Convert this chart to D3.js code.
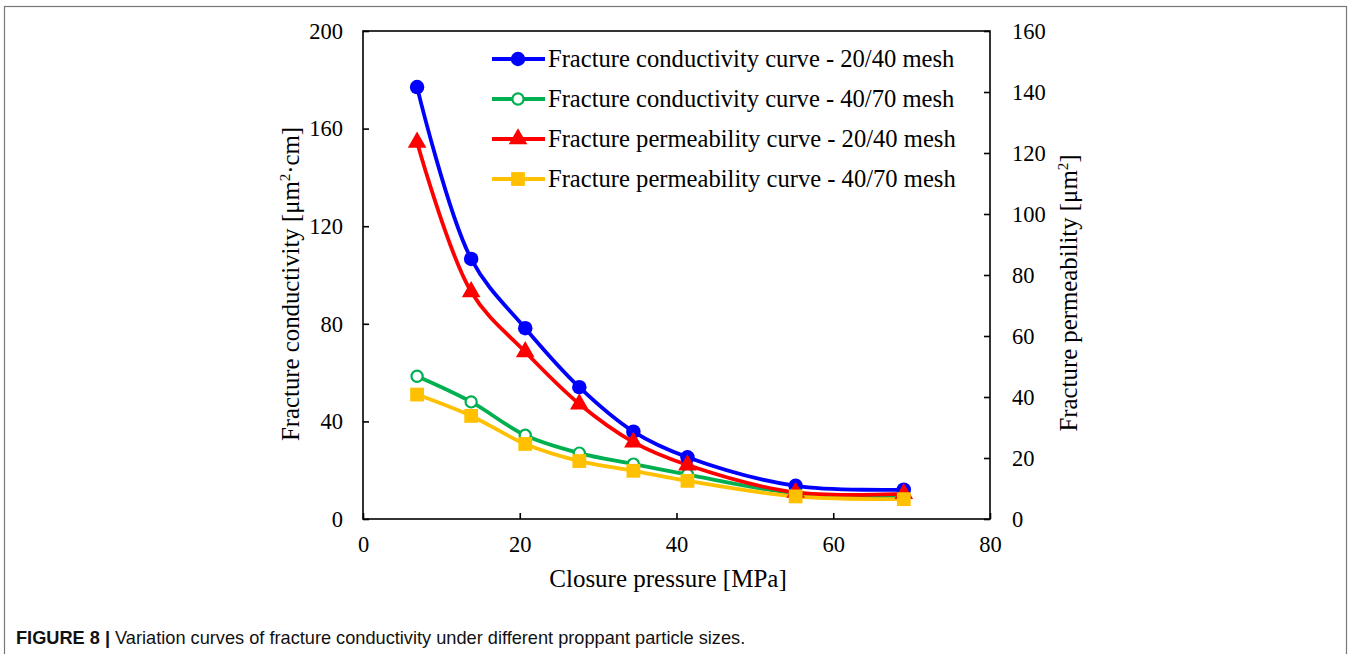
<!DOCTYPE html>
<html><head><meta charset="utf-8">
<script src="https://cdn.jsdelivr.net/npm/d3@7"></script>
<style>body{margin:0;background:#fff}svg{display:block}</style>
</head><body><svg id="c" width="1352" height="654"></svg>
<script>
const pressure = [6.9, 13.8, 20.7, 27.6, 34.5, 41.4, 55.2, 69];
const cond2040 = [177, 106.6, 78.2, 54, 35.8, 25.3, 13.6, 12.0];
const cond4070 = [58.5, 48.0, 34.3, 27.0, 22.5, 18.2, 10.5, 9.2];
const perm2040 = [123.5, 74.5, 54.8, 37.7, 25.2, 17.7, 8.7, 8.3];
const perm4070 = [40.8, 33.8, 24.6, 19.0, 15.8, 12.5, 7.4, 6.5];
const xTicks = [0, 20, 40, 60, 80];
const yLeftTicks = [0, 40, 80, 120, 160, 200];
const yRightTicks = [0, 20, 40, 60, 80, 100, 120, 140, 160];
const seriesNames = ["Fracture conductivity curve - 20/40 mesh","Fracture conductivity curve - 40/70 mesh","Fracture permeability curve - 20/40 mesh","Fracture permeability curve - 40/70 mesh"];
const seriesColors = ["#0000FF","#00B050","#FF0000","#FFC000"];

const svg = d3.select("#c");
svg.append("rect").attr("x",4.5).attr("y",6.5).attr("width",1342).attr("height",660)
  .attr("fill","none").attr("stroke","#777").attr("stroke-width",1.2);

const L=363, R=990, T=31, B=519;
const x = d3.scaleLinear().domain([0,80]).range([L,R]);
const yL = d3.scaleLinear().domain([0,200]).range([B,T]);
const yR = d3.scaleLinear().domain([0,160]).range([B,T]);
const serif = "'Liberation Serif','Times New Roman',serif";

svg.append("rect").attr("x",L).attr("y",T).attr("width",R-L).attr("height",B-T)
  .attr("fill","none").attr("stroke","#000").attr("stroke-width",1.6);

function styleAxis(g){
  g.select(".domain").remove();
  g.selectAll(".tick line").attr("stroke","#000").attr("stroke-width",1.6);
  g.selectAll("text").attr("font-family",serif).attr("font-size",22.5).attr("fill","#000");
}
const gx = svg.append("g").attr("transform",`translate(0,${B})`)
  .call(d3.axisBottom(x).tickValues(xTicks).tickSizeInner(-6).tickSizeOuter(0).tickPadding(17));
styleAxis(gx);
const gyl = svg.append("g").attr("transform",`translate(${L},0)`)
  .call(d3.axisLeft(yL).tickValues(yLeftTicks).tickSizeInner(-6).tickSizeOuter(0).tickPadding(20));
styleAxis(gyl);
const gyr = svg.append("g").attr("transform",`translate(${R},0)`)
  .call(d3.axisRight(yR).tickValues(yRightTicks).tickSizeInner(-6).tickSizeOuter(0).tickPadding(22));
styleAxis(gyr);

svg.append("text").attr("x",668).attr("y",587).attr("text-anchor","middle")
  .attr("font-family",serif).attr("font-size",25).text("Closure pressure [MPa]");
const lt = svg.append("text").attr("transform","translate(299,284) rotate(-90)").attr("text-anchor","middle")
  .attr("font-family",serif).attr("font-size",24.8);
lt.append("tspan").text("Fracture conductivity [μm");
lt.append("tspan").attr("font-size",15).attr("dy",-9).text("2");
lt.append("tspan").attr("dy",9).text("·cm]");
const rt = svg.append("text").attr("transform","translate(1077,293) rotate(-90)").attr("text-anchor","middle")
  .attr("font-family",serif).attr("font-size",24.8);
rt.append("tspan").text("Fracture permeability [μm");
rt.append("tspan").attr("font-size",15).attr("dy",-9).text("2");
rt.append("tspan").attr("dy",9).text("]");

const series = [
  {vals:cond2040, y:yL, marker:"circle", fill:true},
  {vals:cond4070, y:yL, marker:"circle", fill:false},
  {vals:perm2040, y:yR, marker:"triangle", fill:true},
  {vals:perm4070, y:yR, marker:"square", fill:true}
];
const sym = {circle:d3.symbolCircle, triangle:d3.symbolTriangle, square:d3.symbolSquare};
const sz = {circle:165, triangle:150, square:190};

function drawMarker(g, type, color, fill, cx, cy){
  if(type==="circle" && !fill){
    g.append("circle").attr("cx",cx).attr("cy",cy).attr("r",5.6)
      .attr("fill","#fff").attr("stroke",color).attr("stroke-width",2.2);
  } else {
    g.append("path").attr("d",d3.symbol().type(sym[type]).size(sz[type])())
      .attr("transform",`translate(${cx},${cy})`).attr("fill",color);
  }
}

series.forEach((s,i)=>{
  const line = d3.line().x((d,j)=>x(pressure[j])).y(d=>s.y(d)).curve(d3.curveCatmullRom.alpha(0.5));
  svg.append("path").datum(s.vals).attr("d",line).attr("fill","none")
    .attr("stroke",seriesColors[i]).attr("stroke-width",3.8);
});
series.forEach((s,i)=>{
  const g = svg.append("g");
  s.vals.forEach((v,j)=>drawMarker(g, s.marker, seriesColors[i], s.fill, x(pressure[j]), s.y(v)));
});

series.forEach((s,i)=>{
  const yy = 59 + i*40;
  svg.append("line").attr("x1",492).attr("x2",545).attr("y1",yy).attr("y2",yy)
    .attr("stroke",seriesColors[i]).attr("stroke-width",3.8);
  const g = svg.append("g");
  drawMarker(g, s.marker, seriesColors[i], s.fill, 518, yy);
  svg.append("text").attr("x",548).attr("y",yy+8).attr("font-family",serif).attr("font-size",24.6)
    .text(seriesNames[i]);
});

const cap = svg.append("text").attr("x",16).attr("y",644)
  .attr("font-family","'Liberation Sans Narrow','Arial Narrow','Liberation Sans',Arial,sans-serif").attr("font-size",18.2).attr("fill","#111");
cap.append("tspan").attr("font-weight","bold").text("FIGURE 8 | ");
cap.append("tspan").text("Variation curves of fracture conductivity under different proppant particle sizes.");
</script></body></html>
